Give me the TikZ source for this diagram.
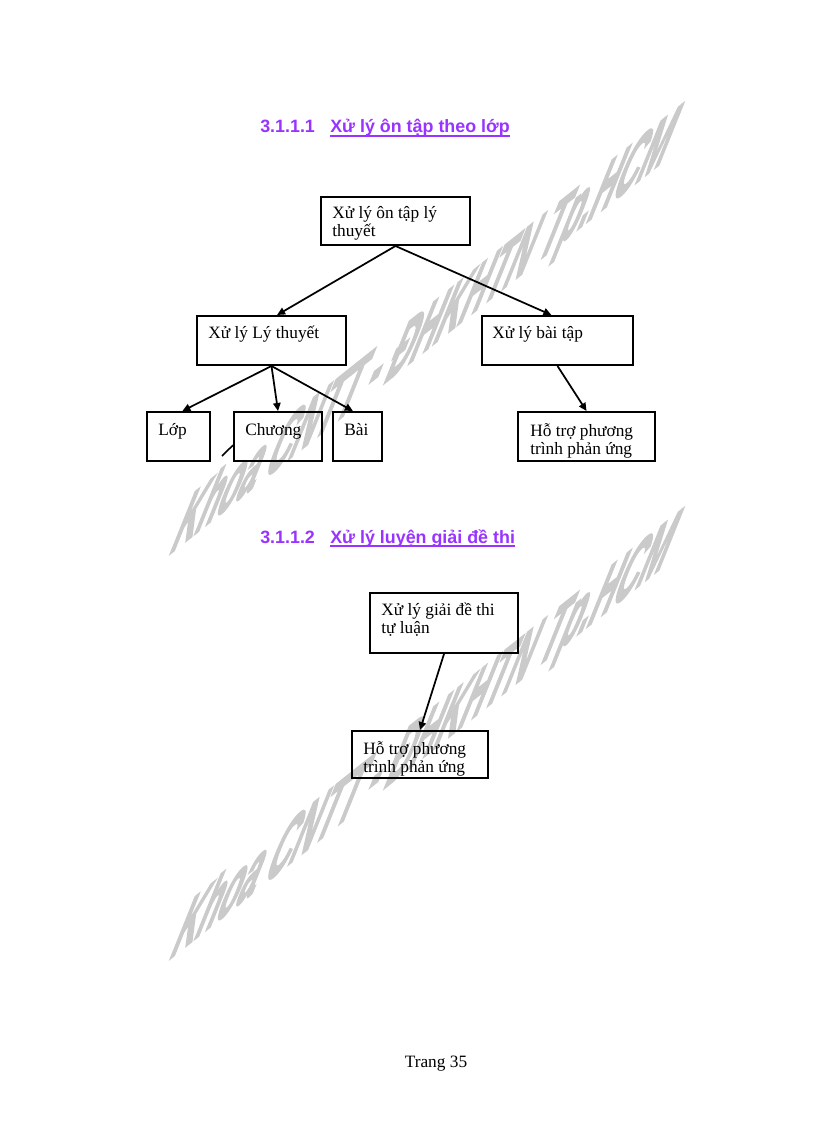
\documentclass[tikz,border=0pt]{standalone}
\usepackage{fontspec}
\setmainfont{Liberation Serif}
\newfontfamily\headfont{Liberation Sans}
\newfontfamily\wmfont{Liberation Sans}[FakeBold=3.5,BoldFeatures={FakeBold=3.5}]
\usetikzlibrary{arrows.meta,fit,calc}
\definecolor{headpurple}{HTML}{9933FF}
\definecolor{wmgray}{RGB}{202,202,202}
\newcommand{\wmtext}{Khoa CNTT - ĐHKHTN Tp.HCM}
\begin{document}
\begin{tikzpicture}[x=0.75pt,y=-0.75pt,
  box/.style={draw=black,line width=1.5pt,inner sep=0pt},
  lbl/.style={anchor=base west,inner sep=0pt,font=\fontsize{13}{13.5}\selectfont,align=left},
  head/.style={anchor=base west,inner sep=0pt,text=headpurple,font=\headfont\bfseries\fontsize{13.4}{15}\selectfont},
  arr/.style={-{Triangle[length=6pt,width=5.5pt]},line width=1.3pt},
  wm/.style={transform shape,cm={0.4226,0.3362,0.45,1.12,(0,0)},inner sep=0pt,text=wmgray,
    font=\wmfont\bfseries\fontsize{60}{60}\selectfont}]
\useasboundingbox (0,0) rectangle (816,1123);
\fill[white] (0,0) rectangle (816,1123);
% watermarks
\begin{scope}[shift={(424,336)}]
  \node[wm] (wm1) at (0,0) {\wmtext};
\end{scope}
\begin{scope}[shift={(424,741)}]
  \node[wm] (wm2) at (0,0) {\wmtext};
\end{scope}
% headings
\node[head] (n1) at (260,133) {3.1.1.1};
\node[head] (h1) at (330,133) {Xử lý ôn tập theo lớp};
\draw[headpurple,line width=1.1pt] ([yshift=-2.2pt]h1.base west) -- ([yshift=-2.2pt]h1.base east);
\node[head] (n2) at (260,543) {3.1.1.2};
\node[head] (h2) at (330,543) {Xử lý luyện giải đề thi};
\draw[headpurple,line width=1.1pt] ([yshift=-2.2pt]h2.base west) -- ([yshift=-2.2pt]h2.base east);
% boxes
\node[box,fit={(321,197)(470,245)}] (root) {};
\node[box,fit={(197,316)(346,365)}] (lt) {};
\node[box,fit={(482,316)(633,365)}] (bt) {};
\node[box,fit={(147,412)(210,461)}] (lop) {};
\node[box,fit={(234,412)(322,461)}] (chuong) {};
\node[box,fit={(333,412)(382,461)}] (bai) {};
\node[box,fit={(518,412)(655,461)}] (ht1) {};
\node[box,fit={(370,593)(518,653)}] (s2a) {};
\node[box,fit={(352,731)(488,778)}] (s2b) {};
% texts (base anchor of a two-line text is its last line)
\node[lbl] (troot) at (332,237) {Xử lý ôn tập lý\\thuyết};
\node[lbl] (tlt) at (208,338) {Xử lý Lý thuyết};
\node[lbl] (tbt) at (492,338) {Xử lý bài tập};
\node[lbl] (tlop) at (158,435) {Lớp};
\node[lbl] (tchuong) at (245,435) {Chương};
\node[lbl] (tbai) at (344,435) {Bài};
\node[lbl] (tht1) at (530,454) {Hỗ trợ phương\\trình phản ứng};
\node[lbl] (ts2a) at (381,633) {Xử lý giải đề thi\\tự luận};
\node[lbl] (ts2b) at (363,772) {Hỗ trợ phương\\trình phản ứng};
% connectors
\draw[arr] (root.south) -- ($(lt.north west)!0.537!(lt.north east)$);
\draw[arr] (root.south) -- ($(bt.north west)!0.46!(bt.north east)$);
\draw[arr] (lt.south) -- ($(lop.north west)!0.56!(lop.north east)$);
\draw[arr] (lt.south) -- (chuong.north);
\draw[arr] (lt.south) -- ($(bai.north west)!0.41!(bai.north east)$);
\draw[arr] (bt.south) -- (ht1.north);
\draw[arr] (s2a.south) -- (s2b.north);
\coordinate (stray) at (222,456);
\draw[line width=1.2pt] (stray) -- ($(chuong.north west)!0.67!(chuong.south west)$);
% footer
\node[lbl,anchor=base] (footer) at (436,1067) {Trang 35};
\end{tikzpicture}
\end{document}
